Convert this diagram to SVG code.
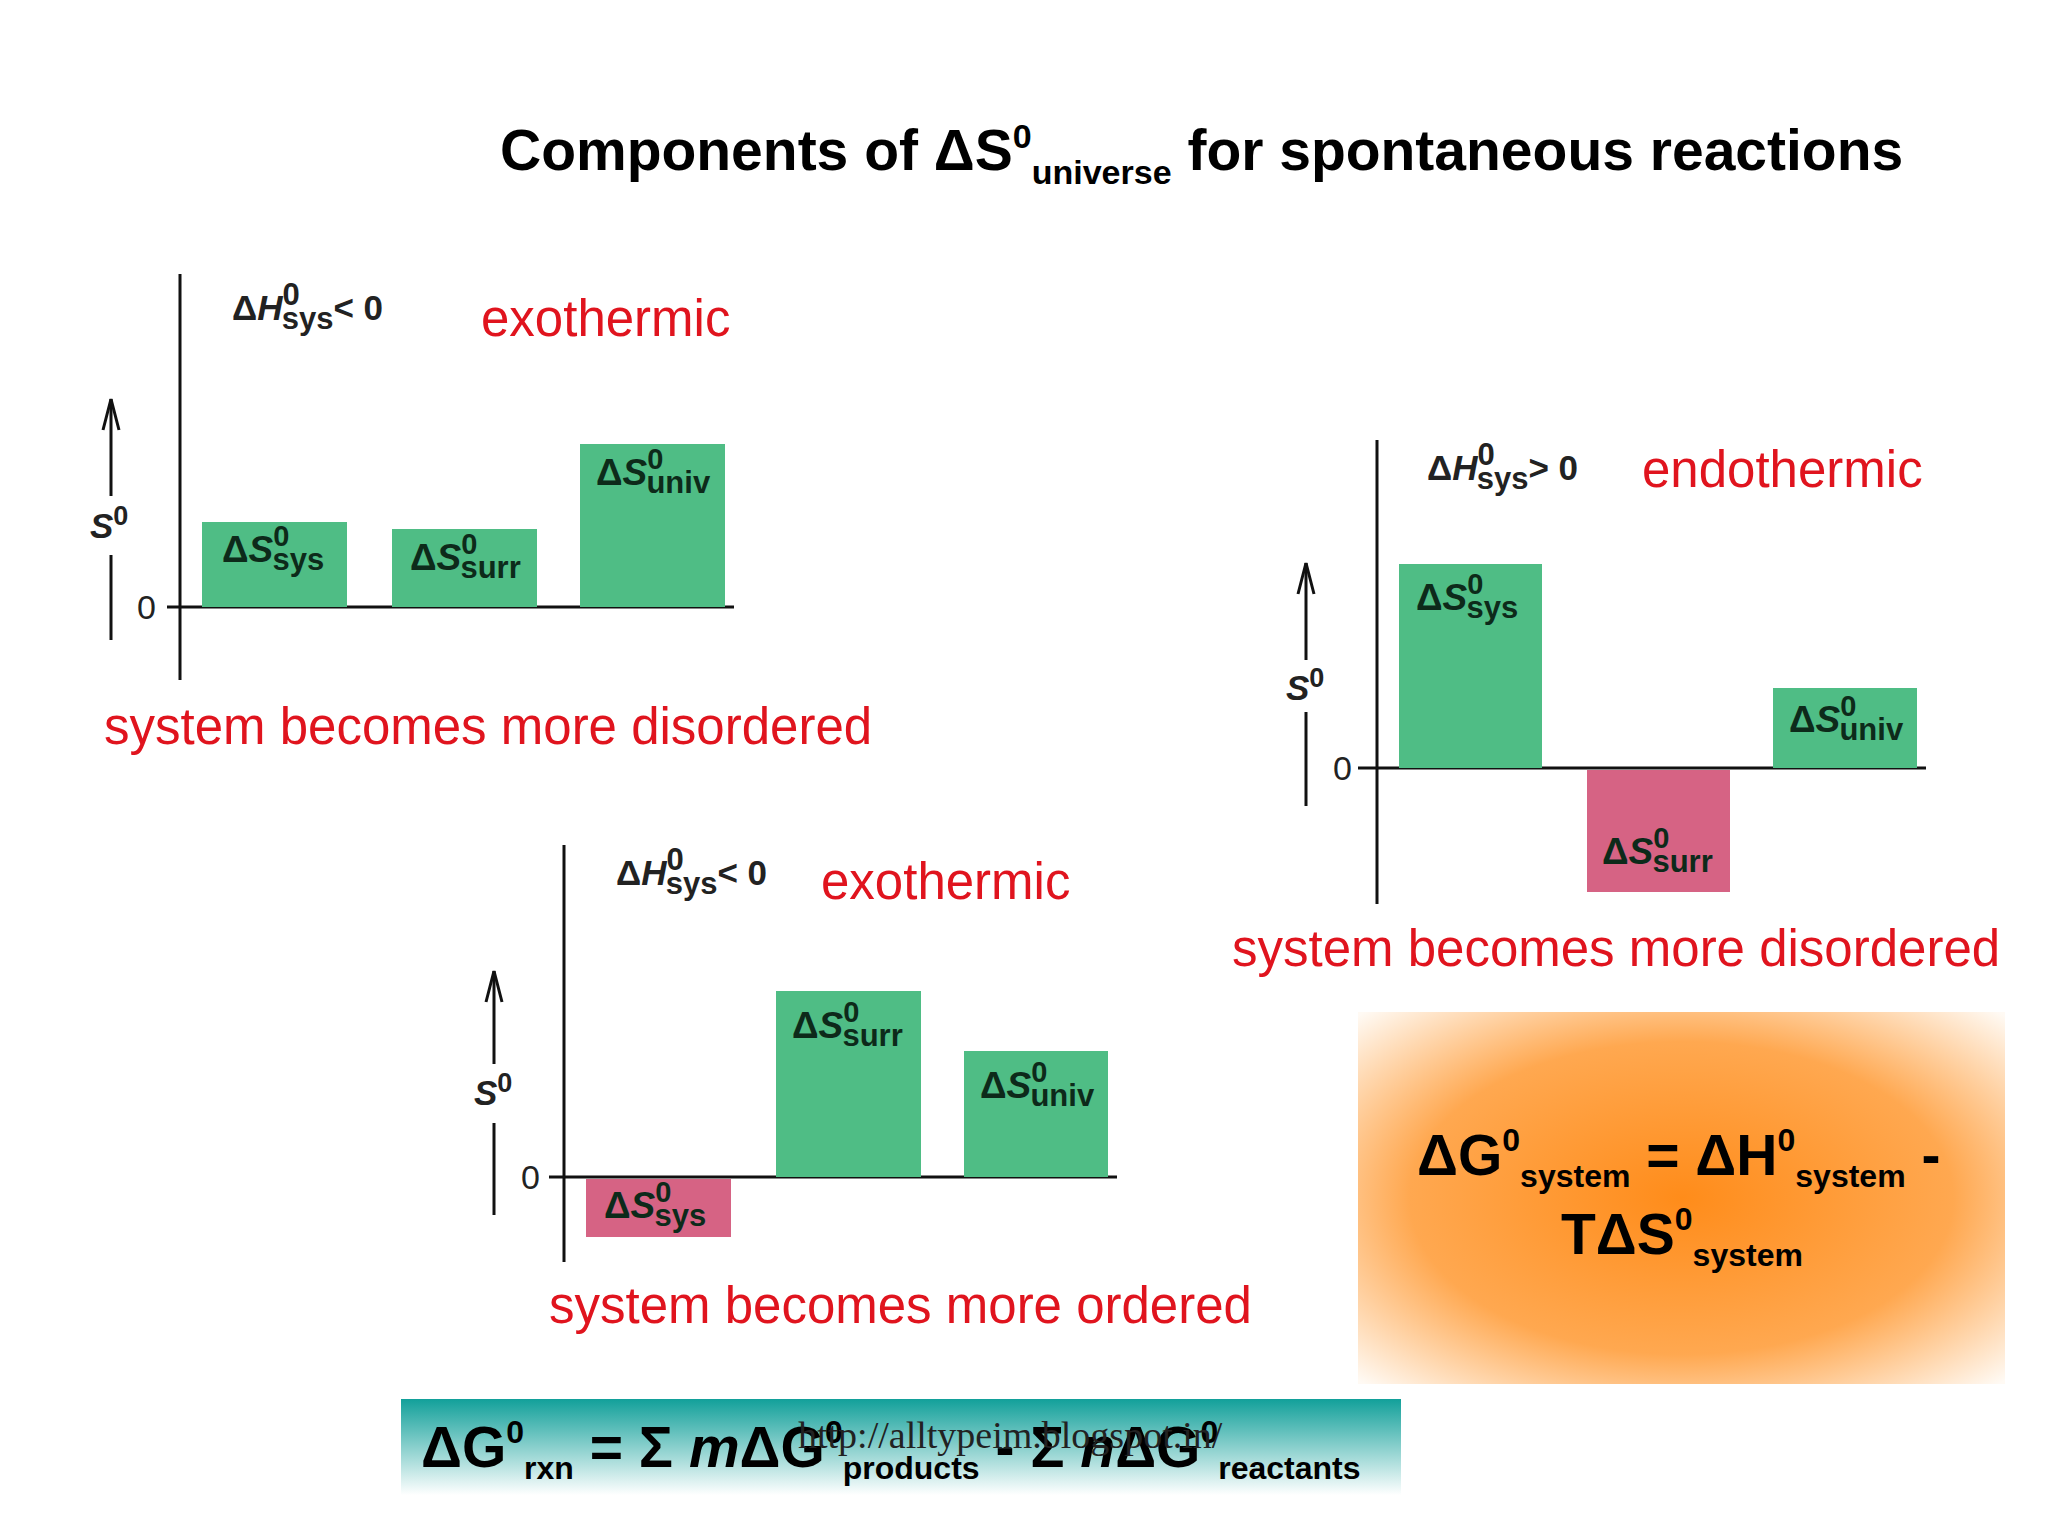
<svg xmlns="http://www.w3.org/2000/svg" width="2048" height="1536" viewBox="0 0 2048 1536">
<defs>
<style>
.ax{stroke:#111;stroke-width:3;fill:none}
.g{fill:#4fbd85}
.p{fill:#d66384}
.bl{font-family:"Liberation Sans",Arial,sans-serif;font-weight:bold;font-size:37px;fill:#0d2a1a}
.h{font-family:"Liberation Sans",Arial,sans-serif;font-weight:bold;font-size:35px;fill:#222}
.red{font-family:"Liberation Sans",Arial,sans-serif;font-size:51px;fill:#e0141e}
.eq{font-family:"Liberation Sans",Arial,sans-serif;font-weight:bold;font-size:57px;fill:#000}
.z{font-family:"Liberation Sans",Arial,sans-serif;font-size:34px;fill:#222}
</style>
<radialGradient id="og" cx="0.5" cy="0.5" r="0.7">
<stop offset="0" stop-color="#ff8c1a"/><stop offset="0.6" stop-color="#ffa850"/><stop offset="1" stop-color="#fffaf4"/>
</radialGradient>
<linearGradient id="tg" x1="0" y1="0" x2="0" y2="1">
<stop offset="0" stop-color="#12a09a"/><stop offset="1" stop-color="#ffffff"/>
</linearGradient>
</defs>
<rect width="2048" height="1536" fill="#fff"/>
<text class="eq" x="500" y="170">Components of ΔS<tspan font-size="34" dy="-22">0</tspan><tspan font-size="34" dy="36">universe</tspan><tspan dy="-14"> for spontaneous reactions</tspan></text>

<g id="chart1">
<line class="ax" x1="180" y1="274" x2="180" y2="680"/>
<line class="ax" x1="167" y1="607" x2="734" y2="607" stroke-width="4"/>
<line class="ax" x1="111" y1="496" x2="111" y2="399"/>
<polyline class="ax" points="103,430 111,399 119,430"/>
<line class="ax" x1="111" y1="555" x2="111" y2="640"/>
<text class="h" x="90" y="538" font-style="italic">S<tspan font-size="27" font-style="normal" dy="-13">0</tspan></text>
<text class="z" x="137" y="619">0</text>
<text class="h" x="232" y="320">Δ<tspan font-style="italic">H</tspan><tspan font-size="31" dy="-15">0</tspan><tspan font-size="31" dx="-18" dy="24">sys</tspan><tspan dy="-9">&lt; 0</tspan></text>
<text class="red" x="481" y="336">exothermic</text>
<rect class="g" x="202" y="522" width="145" height="85"/>
<rect class="g" x="392" y="529" width="145" height="78"/>
<rect class="g" x="580" y="444" width="145" height="163"/>
<text class="bl" x="222" y="562">Δ<tspan font-style="italic">S</tspan><tspan font-size="29" dy="-16">0</tspan><tspan font-size="31" dx="-17" dy="24">sys</tspan></text>
<text class="bl" x="410" y="570">Δ<tspan font-style="italic">S</tspan><tspan font-size="29" dy="-16">0</tspan><tspan font-size="31" dx="-17" dy="24">surr</tspan></text>
<text class="bl" x="596" y="485">Δ<tspan font-style="italic">S</tspan><tspan font-size="29" dy="-16">0</tspan><tspan font-size="31" dx="-17" dy="24">univ</tspan></text>
<text class="red" x="104" y="744">system becomes more disordered</text>
</g>

<g id="chart2">
<line class="ax" x1="1377" y1="440" x2="1377" y2="904"/>
<line class="ax" x1="1358" y1="768" x2="1926" y2="768" stroke-width="4"/>
<line class="ax" x1="1306" y1="660" x2="1306" y2="563"/>
<polyline class="ax" points="1298,594 1306,563 1314,594"/>
<line class="ax" x1="1306" y1="712" x2="1306" y2="806"/>
<text class="h" x="1286" y="700" font-style="italic">S<tspan font-size="27" font-style="normal" dy="-13">0</tspan></text>
<text class="z" x="1333" y="780">0</text>
<text class="h" x="1427" y="480">Δ<tspan font-style="italic">H</tspan><tspan font-size="31" dy="-15">0</tspan><tspan font-size="31" dx="-18" dy="24">sys</tspan><tspan dy="-9">&gt; 0</tspan></text>
<text class="red" x="1642" y="487">endothermic</text>
<rect class="g" x="1399" y="564" width="143" height="204"/>
<rect class="p" x="1587" y="770" width="143" height="122"/>
<rect class="g" x="1773" y="688" width="144" height="80"/>
<text class="bl" x="1416" y="610">Δ<tspan font-style="italic">S</tspan><tspan font-size="29" dy="-16">0</tspan><tspan font-size="31" dx="-17" dy="24">sys</tspan></text>
<text class="bl" x="1602" y="864">Δ<tspan font-style="italic">S</tspan><tspan font-size="29" dy="-16">0</tspan><tspan font-size="31" dx="-17" dy="24">surr</tspan></text>
<text class="bl" x="1789" y="732">Δ<tspan font-style="italic">S</tspan><tspan font-size="29" dy="-16">0</tspan><tspan font-size="31" dx="-17" dy="24">univ</tspan></text>
<text class="red" x="1232" y="966">system becomes more disordered</text>
</g>

<g id="chart3">
<line class="ax" x1="564" y1="845" x2="564" y2="1262"/>
<line class="ax" x1="549" y1="1177" x2="1117" y2="1177" stroke-width="4"/>
<line class="ax" x1="494" y1="1064" x2="494" y2="971"/>
<polyline class="ax" points="486,1002 494,971 502,1002"/>
<line class="ax" x1="494" y1="1123" x2="494" y2="1215"/>
<text class="h" x="474" y="1105" font-style="italic">S<tspan font-size="27" font-style="normal" dy="-13">0</tspan></text>
<text class="z" x="521" y="1189">0</text>
<text class="h" x="616" y="885">Δ<tspan font-style="italic">H</tspan><tspan font-size="31" dy="-15">0</tspan><tspan font-size="31" dx="-18" dy="24">sys</tspan><tspan dy="-9">&lt; 0</tspan></text>
<text class="red" x="821" y="899">exothermic</text>
<rect class="p" x="586" y="1179" width="145" height="58"/>
<rect class="g" x="776" y="991" width="145" height="186"/>
<rect class="g" x="964" y="1051" width="144" height="126"/>
<text class="bl" x="604" y="1218">Δ<tspan font-style="italic">S</tspan><tspan font-size="29" dy="-16">0</tspan><tspan font-size="31" dx="-17" dy="24">sys</tspan></text>
<text class="bl" x="792" y="1038">Δ<tspan font-style="italic">S</tspan><tspan font-size="29" dy="-16">0</tspan><tspan font-size="31" dx="-17" dy="24">surr</tspan></text>
<text class="bl" x="980" y="1098">Δ<tspan font-style="italic">S</tspan><tspan font-size="29" dy="-16">0</tspan><tspan font-size="31" dx="-17" dy="24">univ</tspan></text>
<text class="red" x="549" y="1323">system becomes more ordered</text>
</g>

<g id="gibbs">
<rect x="1358" y="1012" width="647" height="372" fill="url(#og)"/>
<text class="eq" x="1417" y="1175">ΔG<tspan font-size="32" dy="-24">0</tspan><tspan font-size="32" dy="36">system</tspan><tspan dy="-12"> = ΔH</tspan><tspan font-size="32" dy="-24">0</tspan><tspan font-size="32" dy="36">system</tspan><tspan dy="-12"> -</tspan></text>
<text class="eq" x="1561" y="1254">TΔS<tspan font-size="32" dy="-24">0</tspan><tspan font-size="32" dy="36">system</tspan></text>
</g>

<g id="rxn">
<rect x="401" y="1399" width="1000" height="96" fill="url(#tg)"/>
<text class="eq" x="421" y="1467">ΔG<tspan font-size="32" dy="-24">0</tspan><tspan font-size="32" dy="36">rxn</tspan><tspan dy="-12"> = Σ </tspan><tspan font-style="italic">m</tspan>ΔG<tspan font-size="32" dy="-24">0</tspan><tspan font-size="32" dy="36">products</tspan><tspan dy="-12"> - Σ </tspan><tspan font-style="italic">n</tspan>ΔG<tspan font-size="32" dy="-24">0</tspan><tspan font-size="32" dy="36">reactants</tspan></text>
<text x="798" y="1448" font-family="'Liberation Serif',serif" font-size="38" fill="#222">http://alltypeim.blogspot.in/</text>
</g>
</svg>
